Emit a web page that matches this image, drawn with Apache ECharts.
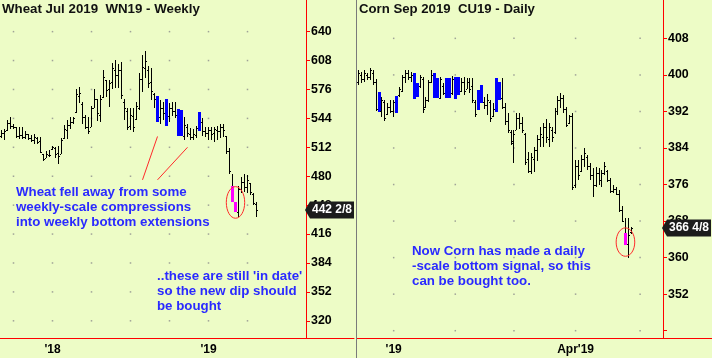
<!DOCTYPE html>
<html>
<head>
<meta charset="utf-8">
<title>Wheat / Corn</title>
<script src="https://cdn.jsdelivr.net/npm/echarts@6/dist/echarts.min.js"></script>
<style>
  html, body { margin: 0; padding: 0; background: #edfcc6; }
  #main { width: 712px; height: 358px; }
</style>
</head>
<body>
<div id="main"></div>
<script>
// ---- Wheat Jul 2019 (WN19), weekly bars ----
var wheatOpen = [524, 528, 531, 539, 536, 534, 524, 526, 523, 527, 522, 520, 522, 519, 505, 500, 504, 510, 511, 506,
  505, 522, 531, 537, 540, 551, 569, 560, 545, 534, 535, 556, 565, 548, 568, 587, 576, 584, 598, 592,
  598, 562, 552, 536, 547, 543, 556, 588, 600, 598, 584, 571, 569, 545, 556, 565, 547, 555, 552, 554,
  553, 525, 535, 527, 523, 526, 551, 540, 530, 528, 531, 528, 531, 530, 535, 524, 508, 469, 451, 440,
  466, 474, 468, 472, 460, 449];
var wheatHigh = [531, 532, 542, 546, 538, 534, 534, 534, 530, 527, 526, 527, 523, 523, 505, 508, 509, 514, 512, 513,
  522, 537, 542, 545, 546, 576, 579, 562, 548, 545, 558, 576, 566, 570, 598, 587, 586, 605, 609, 604,
  606, 566, 556, 555, 556, 562, 594, 614, 619, 602, 600, 572, 569, 564, 562, 565, 561, 562, 562, 554,
  553, 545, 538, 533, 532, 536, 551, 544, 534, 535, 534, 534, 536, 538, 538, 525, 511, 483, 452, 469,
  479, 483, 481, 473, 461, 451];
var wheatLow = [522, 520, 530, 532, 532, 522, 521, 521, 521, 520, 518, 516, 516, 506, 497, 500, 501, 509, 500, 494,
  505, 521, 521, 532, 538, 550, 561, 538, 532, 527, 534, 555, 541, 540, 567, 568, 557, 577, 578, 578,
  565, 542, 531, 531, 529, 542, 553, 573, 589, 578, 564, 556, 540, 538, 542, 536, 540, 547, 544, 525,
  524, 520, 523, 520, 520, 522, 530, 525, 523, 520, 520, 518, 520, 522, 523, 505, 483, 452, 440, 435,
  461, 462, 461, 459, 448, 435];
var wheatClose = [528, 530, 539, 536, 534, 524, 526, 523, 527, 522, 520, 523, 518, 507, 499, 505, 503, 512, 505, 502,
  520, 532, 537, 540, 544, 571, 572, 545, 535, 530, 555, 565, 550, 566, 590, 575, 583, 600, 592, 597,
  570, 556, 535, 548, 535, 558, 588, 601, 607, 583, 574, 566, 540, 556, 550, 536, 555, 552, 548, 525,
  524, 537, 528, 523, 527, 533, 530, 530, 528, 531, 527, 532, 530, 535, 531, 508, 486, 452, 440, 466,
  474, 468, 476, 462, 450, 442.25];
var wheatBlue = [52, 55, 59, 60, 66];
var wheatMagenta = [77, 78];
var wheatWeeks = 118;
var wheatTickIdx = [4, 17, 30, 43, 56, 69, 82];
var wheatTickText = ['', "'18", '', '', '', "'19", ''];
var wheatPrices = [320, 352, 384, 416, 448, 480, 512, 544, 576, 608, 640];
var wheatLast = '442 2/8';

// ---- Corn Sep 2019 (CU19), daily bars ----
var cornOpen = [398.5, 400.0, 399.0, 400.0, 399.5, 400.5, 398.5, 396.2, 392.0, 394.0, 391.5, 393.0, 392.0, 395.4, 395.5, 396.5, 399.5, 400.5, 399.5, 400.4,
  398.2, 397.5, 399.0, 393.0, 394.5, 398.5, 400.4, 399.3, 395.0, 397.5, 399.3, 399.3, 396.0, 399.5, 399.5, 396.5, 398.5, 397.0, 398.5, 397.5,
  394.0, 396.7, 397.8, 394.0, 393.5, 394.0, 391.0, 399.3, 398.4, 395.0, 393.0, 390.0, 387.5, 385.0, 388.0, 390.5, 389.5, 387.0, 381.5, 379.0,
  381.5, 383.5, 386.0, 386.5, 388.5, 386.0, 388.0, 387.5, 392.0, 394.5, 395.0, 392.5, 389.5, 391.0, 376.0, 380.0, 379.0, 381.5, 382.0, 380.0,
  378.0, 376.0, 378.5, 377.0, 378.5, 379.0, 377.0, 374.5, 375.0, 374.0, 370.5, 365.4, 363.0, 365.5];
var cornHigh = [401.1, 400.6, 401.1, 400.4, 401.5, 401.1, 399.1, 396.2, 395.1, 394.5, 393.8, 394.5, 394.5, 395.4, 397.3, 400.0, 401.1, 401.1, 400.6, 400.4,
  398.2, 400.0, 399.5, 395.1, 398.9, 401.1, 400.4, 399.3, 399.5, 398.2, 399.3, 399.3, 399.7, 399.5, 399.5, 399.3, 399.5, 399.3, 399.3, 399.3,
  394.5, 396.7, 397.8, 395.1, 395.8, 394.5, 393.8, 399.3, 398.4, 399.3, 393.8, 391.6, 387.9, 387.9, 391.6, 391.6, 390.8, 387.3, 383.1, 382.9,
  384.2, 386.8, 388.6, 389.4, 390.3, 389.4, 388.6, 392.7, 395.4, 396.0, 395.6, 392.9, 391.2, 391.6, 381.3, 381.3, 382.4, 384.0, 382.4, 380.7,
  379.6, 379.8, 379.6, 379.1, 380.9, 379.1, 377.4, 375.9, 375.4, 374.8, 371.3, 368.7, 368.7, 366.7];
var cornLow = [397.8, 398.2, 398.4, 398.9, 398.9, 397.8, 392.1, 391.9, 390.8, 389.9, 391.2, 391.6, 390.8, 391.6, 395.1, 396.2, 398.2, 398.9, 398.4, 394.7,
  395.1, 397.1, 391.6, 392.7, 394.0, 398.2, 394.9, 394.9, 394.7, 395.6, 394.9, 394.9, 395.6, 394.7, 395.6, 396.2, 395.6, 396.9, 396.0, 393.8,
  390.8, 392.3, 393.8, 392.5, 391.2, 389.7, 390.8, 391.9, 394.5, 392.5, 389.0, 387.3, 384.6, 380.7, 387.9, 388.1, 387.3, 380.2, 378.5, 378.3,
  378.7, 381.1, 384.2, 384.2, 385.1, 384.2, 385.3, 387.0, 391.2, 392.7, 391.6, 388.6, 389.2, 374.8, 375.2, 377.0, 378.7, 379.8, 379.1, 377.0,
  373.2, 375.4, 375.9, 375.4, 378.1, 376.5, 374.1, 374.1, 373.7, 370.0, 367.8, 362.7, 360.0, 365.1];
var cornClose = [400.5, 399.0, 400.5, 399.5, 401.0, 398.5, 392.5, 391.9, 394.5, 390.5, 393.0, 392.0, 394.0, 391.6, 397.0, 399.5, 400.5, 399.5, 400.0, 394.7,
  395.1, 399.5, 392.5, 394.5, 398.5, 400.0, 394.9, 394.9, 399.0, 396.0, 394.9, 394.9, 399.0, 394.7, 395.6, 398.5, 396.5, 398.5, 397.0, 394.5,
  391.5, 392.3, 393.8, 393.5, 394.5, 390.5, 392.5, 391.9, 394.5, 393.0, 390.0, 388.0, 385.5, 387.0, 390.5, 389.5, 388.0, 381.0, 379.0, 382.0,
  383.5, 386.0, 387.0, 388.5, 386.5, 388.5, 386.5, 392.0, 394.5, 395.0, 392.5, 389.0, 391.0, 375.5, 380.0, 378.0, 381.5, 383.0, 380.0, 378.0,
  376.0, 378.5, 377.0, 378.5, 380.0, 377.0, 374.5, 375.0, 374.0, 370.5, 368.0, 362.7, 365.0, 366.5];
var cornBlue = [7, 13, 19, 20, 26, 27, 30, 31, 33, 34, 41, 42, 47, 48];
var cornMagenta = [91];
var cornDays = 121;
var cornTickIdx = [12, 33, 53, 74, 96];
var cornTickText = ["'19", '', '', "Apr'19", ''];
var cornPrices = [344, 352, 360, 368, 376, 384, 392, 400, 408];
var cornLabelPrices = [352, 360, 368, 376, 384, 392, 400, 408];
var cornLast = '366 4/8';

// ---- notes drawn on the chart ----
var wheatTitle = 'Wheat Jul 2019  WN19 - Weekly';
var cornTitle = 'Corn Sep 2019  CU19 - Daily';
var wheatNote1 = ['Wheat fell away from some', 'weekly-scale compressions', 'into weekly bottom extensions'];
var wheatNote2 = ["..these are still 'in date'", 'so the new dip should', 'be bought'];
var cornNote = ['Now Corn has made a daily', '-scale bottom signal, so this', 'can be bought too.'];
var wheatPointers = [[[47, 476], [52, 524]], [[52, 476], [62, 512]]];
var wheatCircle = [78, 451];
var cornCircle = [91, 363.4];

var FONT = "'Liberation Sans', Arial, sans-serif";
var RED = '#ff0000';

function buildBars(o, h, l, c, blue, magenta) {
  var out = [];
  for (var i = 0; i < o.length; i++) {
    var paint = blue.indexOf(i) >= 0 ? 1 : (magenta.indexOf(i) >= 0 ? 2 : 0);
    out.push([i, o[i], h[i], l[i], c[i], paint]);
  }
  return out;
}

function buildDots(ticks, prices) {
  var out = [];
  ticks.forEach(function (t) {
    prices.forEach(function (p) { out.push([t, p]); });
  });
  return out;
}

function catList(n) {
  var a = [];
  for (var i = 0; i < n; i++) a.push(String(i));
  return a;
}

function renderBar(params, api) {
  var idx = api.value(0);
  var pO = api.coord([idx, api.value(1)]);
  var pH = api.coord([idx, api.value(2)]);
  var pL = api.coord([idx, api.value(3)]);
  var pC = api.coord([idx, api.value(4)]);
  var paint = api.value(5);
  var col = Math.floor(pO[0]);
  var yH = Math.round(pH[1]), yL = Math.round(pL[1]);
  var yO = Math.round(pO[1]), yC = Math.round(pC[1]);
  var kids = [{
    type: 'rect', shape: { x: col, y: yH, width: 1, height: Math.max(1, yL - yH) },
    style: { fill: '#000' }
  }];
  if (paint) {
    var top = Math.min(yO, yC), bot = Math.max(yO, yC);
    kids.push({
      type: 'rect', shape: { x: col - 1, y: top, width: 3, height: Math.max(2, bot - top) },
      style: { fill: paint === 1 ? '#0000ff' : '#ff00ff' }
    });
  } else {
    kids.push({ type: 'rect', shape: { x: col - 1, y: yO, width: 1, height: 1 }, style: { fill: '#000' } });
    kids.push({ type: 'rect', shape: { x: col + 1, y: yC, width: 1, height: 1 }, style: { fill: '#000' } });
  }
  return { type: 'group', children: kids };
}

function xAxisFor(grid, n, ticks, texts) {
  return {
    type: 'category', gridIndex: grid, data: catList(n), boundaryGap: true,
    axisLine: { onZero: false, lineStyle: { color: RED, width: 1 } },
    axisTick: {
      alignWithLabel: true, length: 5, lineStyle: { color: RED },
      interval: function (i) { var k = ticks.indexOf(i); return k >= 0 && texts[k] === ''; }
    },
    axisLabel: {
      interval: function (i) { var k = ticks.indexOf(i); return k >= 0 && texts[k] !== ''; },
      formatter: function (v, i) { var k = ticks.indexOf(i); return k >= 0 ? texts[k] : ''; },
      color: '#000', fontWeight: 'bold', fontSize: 12, fontFamily: FONT, margin: 6
    },
    splitLine: { show: false }
  };
}

function yAxisFor(grid, min, max, offset, tickVals, labelVals) {
  return {
    type: 'value', gridIndex: grid, position: 'right', offset: offset, min: min, max: max,
    axisLine: { show: true, lineStyle: { color: RED, width: 1 } },
    axisTick: { show: true, length: 4, customValues: tickVals, lineStyle: { color: RED } },
    axisLabel: { customValues: labelVals, color: '#000', fontWeight: 'bold', fontSize: 12.4, fontFamily: FONT, margin: 5 },
    splitLine: { show: false }
  };
}

var chart = echarts.init(document.getElementById('main'));

chart.setOption({
  backgroundColor: '#edfcc6',
  animation: false,
  grid: [
    { left: 0, top: 0, width: 354, height: 338 },
    { left: 357, top: 0, width: 355, height: 338 }
  ],
  xAxis: [
    xAxisFor(0, wheatWeeks, wheatTickIdx, wheatTickText),
    xAxisFor(1, cornDays, cornTickIdx, cornTickText)
  ],
  yAxis: [
    yAxisFor(0, 301, 675, -48, wheatPrices, wheatPrices),
    yAxisFor(1, 342.4, 416.4, -49, cornPrices, cornLabelPrices)
  ],
  series: [
    {
      type: 'scatter', xAxisIndex: 0, yAxisIndex: 0, silent: true, symbol: 'rect', symbolSize: 1.5,
      itemStyle: { color: '#8c8c8c' }, data: buildDots(wheatTickIdx, wheatPrices), z: 1
    },
    {
      type: 'scatter', xAxisIndex: 1, yAxisIndex: 1, silent: true, symbol: 'rect', symbolSize: 1.5,
      itemStyle: { color: '#8c8c8c' }, data: buildDots(cornTickIdx, cornPrices), z: 1
    },
    {
      name: 'Wheat', type: 'custom', xAxisIndex: 0, yAxisIndex: 0, renderItem: renderBar,
      encode: { x: 0, y: [1, 2, 3, 4] }, silent: true, z: 2,
      data: buildBars(wheatOpen, wheatHigh, wheatLow, wheatClose, wheatBlue, wheatMagenta)
    },
    {
      name: 'Corn', type: 'custom', xAxisIndex: 1, yAxisIndex: 1, renderItem: renderBar,
      encode: { x: 0, y: [1, 2, 3, 4] }, silent: true, z: 2,
      data: buildBars(cornOpen, cornHigh, cornLow, cornClose, cornBlue, cornMagenta)
    }
  ]
});

function px(k, pt) {
  return chart.convertToPixel({ xAxisIndex: k, yAxisIndex: k }, pt);
}

// last-price tag sitting on the price axis
function badge(axisX, y, text) {
  return [
    {
      type: 'polygon', z: 100, zlevel: 1,
      shape: { points: [[axisX - 1, y], [axisX + 4, y - 8.5], [axisX + 48, y - 8.5], [axisX + 48, y + 8.5], [axisX + 4, y + 8.5]] },
      style: { fill: '#1c1c1c' }
    },
    {
      type: 'text', z: 101, zlevel: 1, x: axisX + 26, y: y,
      style: { text: text, fill: '#fff', font: 'bold 12px ' + FONT, align: 'center', verticalAlign: 'middle' }
    }
  ];
}

function note(x, y, lines) {
  return {
    type: 'text', x: x, y: y, z: 50,
    style: { text: lines.join('\n'), fill: '#2a2aff', font: 'bold 13.3px ' + FONT, lineHeight: 15 }
  };
}

var graphics = [];
graphics.push({ type: 'line', shape: { x1: 356.5, y1: 0, x2: 356.5, y2: 358 }, style: { stroke: '#7a7a7a', lineWidth: 1 }, z: 60 });
graphics.push({ type: 'text', x: 2, y: 3, z: 50, style: { text: wheatTitle, fill: '#111', font: 'bold 13.3px ' + FONT } });
graphics.push({ type: 'text', x: 359, y: 3, z: 50, style: { text: cornTitle, fill: '#111', font: 'bold 13.2px ' + FONT } });
graphics.push(note(16, 185, wheatNote1));
graphics.push(note(157, 268.5, wheatNote2));
graphics.push(note(412, 244, cornNote));

wheatPointers.forEach(function (seg) {
  var a = px(0, seg[0]), b = px(0, seg[1]);
  graphics.push({ type: 'line', z: 40, shape: { x1: a[0], y1: a[1], x2: b[0], y2: b[1] }, style: { stroke: '#ff2a2a', lineWidth: 1 } });
});

var wc = px(0, wheatCircle);
graphics.push({ type: 'ellipse', z: 40, shape: { cx: wc[0], cy: wc[1], rx: 9.2, ry: 15.8 }, style: { fill: 'none', stroke: '#ff2a2a', lineWidth: 1 } });
var cc = px(1, cornCircle);
graphics.push({ type: 'ellipse', z: 40, shape: { cx: cc[0], cy: cc[1], rx: 9.3, ry: 14.2 }, style: { fill: 'none', stroke: '#ff2a2a', lineWidth: 1 } });

var wLast = px(0, [wheatClose.length - 1, wheatClose[wheatClose.length - 1]]);
graphics = graphics.concat(badge(306, Math.round(wLast[1]), wheatLast));
var cLast = px(1, [cornClose.length - 1, cornClose[cornClose.length - 1]]);
graphics = graphics.concat(badge(663, Math.round(cLast[1]), cornLast));

chart.setOption({ graphic: graphics });
</script>
</body>
</html>
